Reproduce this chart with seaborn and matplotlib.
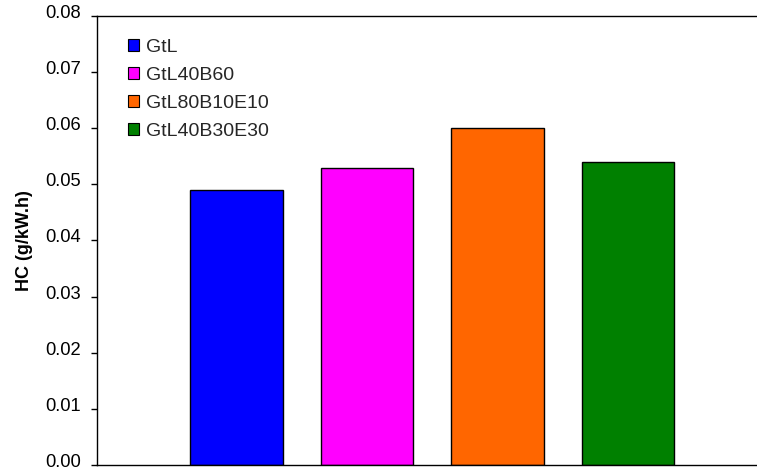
import matplotlib
matplotlib.use("Agg")
import matplotlib.pyplot as plt
import matplotlib.transforms as mtransforms
import seaborn as sns
import pandas as pd
from matplotlib.patches import Patch

fuels = ["GtL", "GtL40B60", "GtL80B10E10", "GtL40B30E30"]
hc = [0.049, 0.053, 0.060, 0.054]
colors = ["#0000FF", "#FF00FF", "#FF6600", "#008000"]
yticks = [0.00, 0.01, 0.02, 0.03, 0.04, 0.05, 0.06, 0.07, 0.08]

sns.set_theme(style="white")
plt.rcParams['font.family'] = ['Liberation Sans', 'DejaVu Sans']

df = pd.DataFrame({"fuel": fuels, "hc": hc})

fig = plt.figure(figsize=(7.57, 4.70), dpi=100)
ax = fig.add_axes([0.128, 0.0106, 0.872, 0.9554])

sns.barplot(data=df, x="fuel", y="hc", hue="fuel", palette=colors, saturation=1,
            dodge=False, width=0.71, edgecolor="black", linewidth=1.0,
            legend=False, ax=ax)

ax.set_xlim(-1.07, 3.99)
ax.set_ylim(0, 0.08)
ax.set_yticks(yticks)
ax.set_yticklabels([f"{t:.2f}" for t in yticks], fontsize=13.2, color="black")
ax.set_xticks([])
ax.set_xlabel("")
ax.set_ylabel("HC (g/kW.h)", fontsize=13, fontweight="bold", color="black", labelpad=9)

for s in ["left", "bottom", "top"]:
    ax.spines[s].set_visible(True)
    ax.spines[s].set_color("black")
    ax.spines[s].set_linewidth(1.0)
ax.spines["right"].set_visible(False)
ax.tick_params(axis="y", direction="out", length=4.3, width=1, color="black", left=True, pad=7)

offset = mtransforms.ScaledTranslation(0, 4.5 / 100, fig.dpi_scale_trans)
for lab in ax.get_yticklabels():
    lab.set_transform(lab.get_transform() + offset)

handles = [Patch(facecolor=c, edgecolor="black", linewidth=0.8, label=f) for c, f in zip(colors, fuels)]
ax.legend(handles=handles, loc="upper left", bbox_to_anchor=(0.03, 0.975), frameon=False,
          fontsize=14, handlelength=0.57, handleheight=0.57, handletextpad=0.36,
          labelspacing=0.56, borderaxespad=0.2)

fig.savefig("out.png", dpi=100)
